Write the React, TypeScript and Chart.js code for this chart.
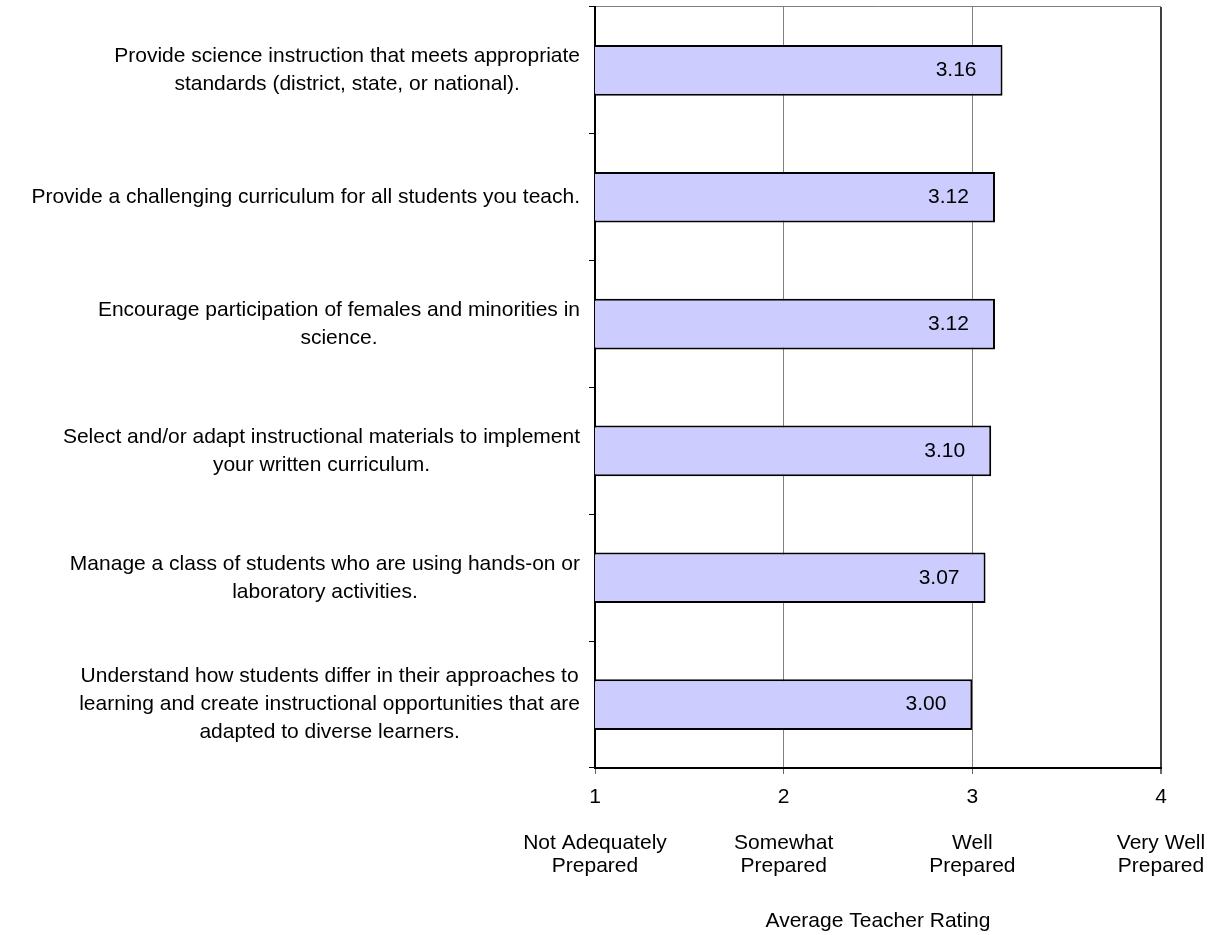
import { useEffect, useRef } from "react";
import { Chart, registerables } from "chart.js";

Chart.register(...registerables);

// Survey items (each entry is one label, split into its display lines)
const items: string[][] = [
  ["Provide science instruction that meets appropriate", "standards (district, state, or national)."],
  ["Provide a challenging curriculum for all students you teach."],
  ["Encourage participation of females and minorities in", "science."],
  ["Select and/or adapt instructional materials to implement", "your written curriculum."],
  ["Manage a class of students who are using hands-on or", "laboratory activities."],
  [
    "Understand how students differ in their approaches to",
    "learning and create instructional opportunities that are",
    "adapted to diverse learners.",
  ],
];

// Average rating per item
const ratings: number[] = [3.16, 3.12, 3.12, 3.1, 3.07, 3.0];

// Rating scale
const scaleValues: number[] = [1, 2, 3, 4];
const scaleNames: string[][] = [
  ["Not Adequately", "Prepared"],
  ["Somewhat", "Prepared"],
  ["Well", "Prepared"],
  ["Very Well", "Prepared"],
];

const axisTitle = "Average Teacher Rating";

const FONT_FAMILY = '"Liberation Sans", Arial, Helvetica, sans-serif';
const FONT_SIZE = 21;
const ITEM_LINE_HEIGHT = 28;

// Multi-line item labels: each block right-aligned against the axis, lines centred within the block
const itemLabelPlugin = {
  id: "itemLabels",
  afterDraw(chart: any) {
    const { ctx } = chart;
    const yScale = chart.scales.y;
    ctx.save();
    ctx.font = `${FONT_SIZE}px ${FONT_FAMILY}`;
    ctx.fillStyle = "#000";
    ctx.textAlign = "center";
    ctx.textBaseline = "middle";
    const right = yScale.right - 15;
    items.forEach((lines, i) => {
      const cy = yScale.getPixelForTick(i);
      const w = Math.max(...lines.map((l) => ctx.measureText(l).width));
      const cx = right - w / 2;
      lines.forEach((line, j) => {
        ctx.fillText(line, cx, cy + (j - (lines.length - 1) / 2) * ITEM_LINE_HEIGHT);
      });
    });
    ctx.restore();
  },
};

// Value labels placed inside the end of each bar
const valueLabelPlugin = {
  id: "valueLabels",
  afterDatasetsDraw(chart: any) {
    const { ctx } = chart;
    const meta = chart.getDatasetMeta(0);
    ctx.save();
    ctx.font = `${FONT_SIZE}px ${FONT_FAMILY}`;
    ctx.fillStyle = "#000";
    ctx.textAlign = "right";
    ctx.textBaseline = "middle";
    meta.data.forEach((bar: any, i: number) => {
      ctx.fillText(ratings[i].toFixed(2), bar.x - 26, bar.y);
    });
    ctx.restore();
  },
};

export default function App() {
  const canvasRef = useRef<HTMLCanvasElement | null>(null);

  useEffect(() => {
    const canvas = canvasRef.current;
    if (!canvas) return;
    const chart = new Chart(canvas, {
      type: "bar",
      data: {
        labels: items.map((l) => l.join(" ")),
        datasets: [
          {
            data: ratings,
            backgroundColor: "#CCCCFF",
            borderColor: "#000000",
            borderWidth: 2,
            borderSkipped: false,
            categoryPercentage: 1,
            barPercentage: 0.4,
          },
        ],
      },
      options: {
        indexAxis: "y",
        animation: false,
        responsive: true,
        maintainAspectRatio: false,
        layout: { padding: { top: 7, right: 54, bottom: 0, left: 0 } },
        plugins: {
          legend: { display: false },
          tooltip: { enabled: false },
        },
        scales: {
          x: {
            type: "linear",
            min: 1,
            max: 4,
            afterBuildTicks: (scale: any) => {
              scale.ticks = scaleValues.map((v) => ({ value: v }));
            },
            afterFit: (scale: any) => {
              scale.height = 167;
              scale.paddingLeft = 0;
              scale.paddingRight = 0;
            },
            ticks: {
              autoSkip: false,
              maxRotation: 0,
              padding: 12,
              color: "#000",
              font: { family: FONT_FAMILY, size: FONT_SIZE, lineHeight: "23px" },
              callback: (value: any) => {
                const i = scaleValues.indexOf(Number(value));
                return [String(value), "", ...(scaleNames[i] || [])];
              },
            },
            grid: {
              color: (c: any) => (c.tick && c.tick.value === 4 ? "#404040" : "#808080"),
              lineWidth: (c: any) => (c.tick && c.tick.value === 4 ? 2 : 1),
              tickColor: "#666",
              tickLength: 6,
            },
            border: { display: true, color: "#000", width: 2 },
            title: {
              display: true,
              text: axisTitle,
              color: "#000",
              font: { family: FONT_FAMILY, size: FONT_SIZE },
              padding: { top: 0, bottom: 1 },
            },
          },
          y: {
            type: "category",
            afterFit: (scale: any) => {
              scale.width = 595;
            },
            ticks: { display: false },
            grid: {
              offset: true,
              drawOnChartArea: true,
              color: (c: any) => (c.index === 0 ? "#808080" : "rgba(0,0,0,0)"),
              tickColor: "#000",
              tickLength: 6,
              lineWidth: 1,
            },
            border: { display: true, color: "#000", width: 2 },
          },
        },
      },
      plugins: [itemLabelPlugin, valueLabelPlugin],
    });
    return () => chart.destroy();
  }, []);

  return (
    <div style={{ position: "absolute", left: 0, top: 0, width: 1215, height: 935, background: "#fff" }}>
      <canvas ref={canvasRef} />
    </div>
  );
}
